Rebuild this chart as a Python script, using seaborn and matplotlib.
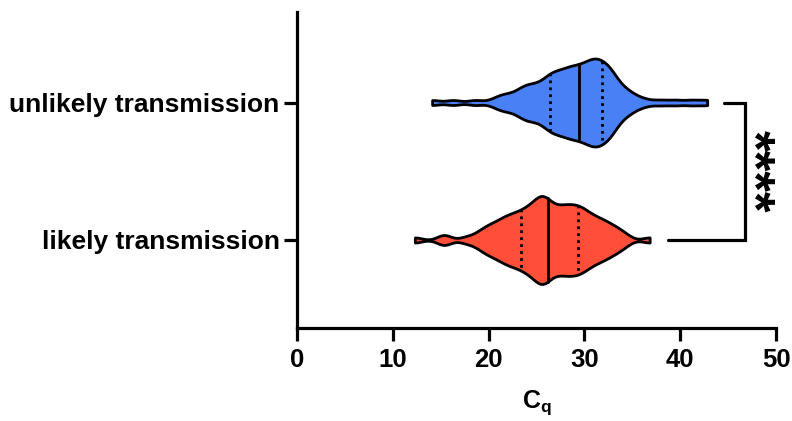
import numpy as np
import pandas as pd
import matplotlib
matplotlib.use("Agg")
import matplotlib.pyplot as plt
import seaborn as sns

categories = ["unlikely transmission", "likely transmission"]
colors = ["#4A80F6", "#FF4F38"]

unlikely = [14.1, 16.3, 18.6,
            20.6,
            21.3, 21.7,
            22.2, 22.8,
            23.2, 23.45, 23.7, 23.95,
            24.15, 24.4, 24.65, 24.9,
            25.15, 25.4, 25.65, 25.9,
            26.05, 26.2, 26.35, 26.5, 26.6, 26.75, 26.9,
            27.05, 27.2, 27.35, 27.5, 27.65, 27.8, 27.95,
            28.05, 28.2, 28.3, 28.45, 28.55, 28.7, 28.8, 28.95,
            29.05, 29.2, 29.3, 29.45, 29.55, 29.7, 29.8, 29.95,
            30.05, 30.15, 30.3, 30.4, 30.5, 30.6, 30.7, 30.85, 30.95,
            31.0, 31.1, 31.2, 31.3, 31.4, 31.5, 31.6, 31.7, 31.8, 31.9,
            32.05, 32.2, 32.35, 32.45, 32.5, 32.65, 32.75, 32.8, 32.95,
            33.1, 33.35, 33.6, 33.85,
            34.2, 34.5, 34.8,
            35.4, 36.3,
            37.9, 39.5, 41.2, 42.8]

likely = [12.3, 15.2, 15.5, 17.6,
          18.6,
          19.2, 19.5, 19.8,
          20.1, 20.4, 20.6, 20.9,
          21.1, 21.3, 21.5, 21.7, 21.9,
          22.05, 22.2, 22.4, 22.55, 22.7, 22.9,
          23.05, 23.2, 23.35, 23.5, 23.65, 23.8, 23.95,
          24.05, 24.2, 24.3, 24.45, 24.55, 24.7, 24.8, 24.95,
          25.05, 25.15, 25.25, 25.35, 25.45, 25.5, 25.55, 25.65, 25.75, 25.85, 25.95,
          26.05, 26.15, 26.25, 26.4, 26.5, 26.6, 26.75, 26.9,
          27.05, 27.2, 27.3, 27.45, 27.55, 27.7, 27.8, 27.95,
          28.05, 28.2, 28.3, 28.45, 28.55, 28.7, 28.8, 28.95,
          29.05, 29.2, 29.3, 29.45, 29.55, 29.7, 29.8, 29.95,
          30.1, 30.25, 30.4, 30.6, 30.75, 30.9,
          31.1, 31.3, 31.5, 31.7, 31.9,
          32.1, 32.35, 32.6, 32.85,
          33.15, 33.5, 33.85,
          34.4,
          36.8]

x_ticks = [0, 10, 20, 30, 40, 50]
x_label = r"$\mathbf{C_q}$"
signif = "****"

df = pd.DataFrame({
    "Cq": unlikely + likely,
    "group": [categories[0]] * len(unlikely) + [categories[1]] * len(likely),
})

sns.set_style("white")
plt.rcParams["font.family"] = ["Liberation Sans", "DejaVu Sans"]
plt.rcParams["font.weight"] = "bold"
plt.rcParams["mathtext.fontset"] = "custom"
plt.rcParams["mathtext.bf"] = "Liberation Sans:bold"
plt.rcParams["mathtext.rm"] = "Liberation Sans:bold"
plt.rcParams["text.color"] = "black"
plt.rcParams["axes.labelcolor"] = "black"
plt.rcParams["xtick.color"] = "black"
plt.rcParams["ytick.color"] = "black"

fig = plt.figure(figsize=(7.92, 4.21), dpi=100)
ax = fig.add_axes([0.375, 0.221, 0.605, 0.751])

sns.violinplot(data=df, x="Cq", y="group", order=categories, hue="group",
               hue_order=categories, palette=colors, legend=False, cut=0,
               inner="quart", density_norm="width", width=0.64, linewidth=2.0,
               linecolor="black", bw_adjust=0.4, saturation=1, ax=ax)

medians = [np.median(unlikely), np.median(likely)]
for ln in ax.lines:
    xd = np.asarray(ln.get_xdata(), dtype=float)
    ln.set_color("black")
    if any(np.isclose(xd[0], m) for m in medians):
        ln.set_linestyle("-")
        ln.set_linewidth(2.0)
    else:
        ln.set_linestyle((0, (1, 1.5)))
        ln.set_linewidth(2.0)

ax.set_xlim(0, 50)
ax.set_ylim(1.64, -0.66)
ax.set_xticks(x_ticks)
ax.set_xticklabels([str(t) for t in x_ticks])
ax.set_xlabel(x_label, fontsize=18, labelpad=12)
ax.set_ylabel("")

for s in ["top", "right"]:
    ax.spines[s].set_visible(False)
for s in ["left", "bottom"]:
    ax.spines[s].set_linewidth(2.3)
    ax.spines[s].set_color("black")
ax.tick_params(axis="both", which="major", length=9.5, width=2.3, color="black",
               direction="out", left=True, bottom=True, pad=3)
ax.tick_params(axis="y", labelsize=19)
ax.tick_params(axis="x", labelsize=18.5, pad=5)
for lab in ax.get_xticklabels() + ax.get_yticklabels():
    lab.set_fontweight("bold")
    lab.set_color("black")

# significance bracket
bx = 46.8
ax.plot([44.6, bx, bx, 38.7], [0, 0, 1, 1], color="black", lw=2.3,
        clip_on=False, solid_joinstyle="miter")
ax.text(47.35, 0.5, signif, rotation=-90, ha="center", va="center",
        fontsize=38, fontweight="bold", color="black", clip_on=False)

fig.savefig("out.png", dpi=100)
